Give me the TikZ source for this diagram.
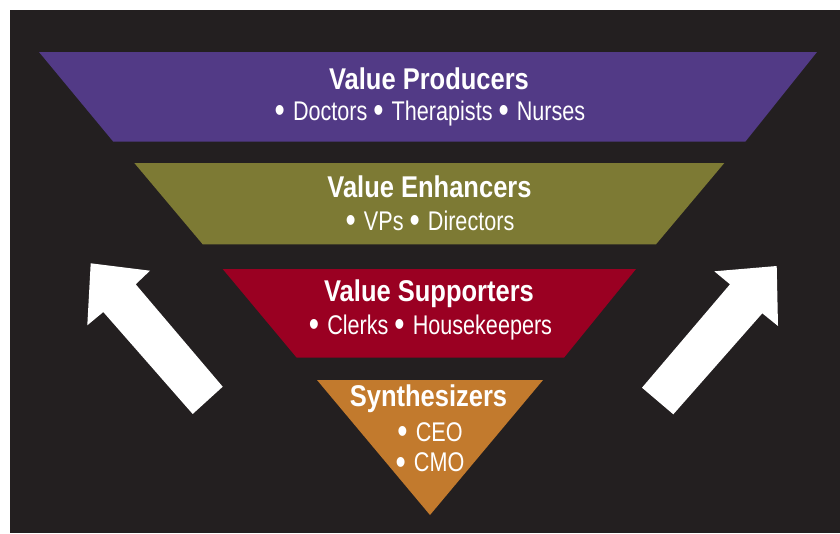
\documentclass[tikz,border=0pt]{standalone}
\usepackage{fontspec}
\setmainfont{Liberation Sans}
\newfontfamily\ttlfont[FakeStretch=0.85]{Liberation Sans}
\newfontfamily\subfont[FakeStretch=0.8]{Liberation Sans}
\newcommand{\bul}{\raisebox{-0.09em}{\scalebox{1.35}{\textbullet}}\hspace{0.3em}}
\definecolor{bgdark}{HTML}{231F20}
\definecolor{cpurple}{HTML}{523A86}
\definecolor{colive}{HTML}{7D7A34}
\definecolor{cred}{HTML}{9A0022}
\definecolor{corange}{HTML}{C27A2D}
\tikzset{
  ttl/.style={anchor=base, text=white, inner sep=0pt, font=\ttlfont\bfseries\fontsize{30}{32}\selectfont},
  sub/.style={anchor=base, text=white, inner sep=0pt, font=\subfont\fontsize{27}{30.7}\selectfont},
  bigarrow/.style={fill=white, draw=none}
}
\begin{document}
\begin{tikzpicture}[x=1pt,y=-1pt]
\useasboundingbox (0,0) rectangle (840,533);
\fill[white] (0,0) rectangle (840,533);
\fill[bgdark] (10,10) rectangle (840,533);
% bands
\fill[cpurple] (39,52) -- (817,52) -- (745.3,141.7) -- (113.3,141.7) -- cycle;
\fill[colive] (134.3,163) -- (724.3,163) -- (656,244.3) -- (202.7,244.3) -- cycle;
\fill[cred] (222.7,269) -- (636,269) -- (564,357.7) -- (296.7,357.7) -- cycle;
\fill[corange] (317,380) -- (543,380) -- (430,515) -- cycle;
% arrows
\fill[bigarrow] (90.7,263.3) -- (150,270.7) -- (135.7,284.3) -- (222.7,386.7) -- (192.7,414) -- (103.3,312) -- (87.3,325.3) -- cycle;
\fill[bigarrow] (776.7,266) -- (778,326) -- (762.3,313.3) -- (673.3,414.3) -- (642,387.7) -- (730,284.3) -- (714.3,271.3) -- cycle;
% texts
\node[ttl] (t1) at (429,89) {Value Producers};
\node[sub] (s1) at (430,120) {\bul Doctors \bul Therapists \bul Nurses};
\node[ttl] (t2) at (429.5,197.7) {Value Enhancers};
\node[sub] (s2) at (430,230) {\bul VPs \bul Directors};
\node[ttl] (t3) at (429,301.7) {Value Supporters};
\node[sub] (s3) at (430.5,334) {\bul Clerks \bul Housekeepers};
\node[ttl] (t4) at (428.5,406) {Synthesizers};
\node[sub, align=center] (s4) at (430,471.7) {\bul CEO\\\bul CMO};
\end{tikzpicture}
\end{document}
